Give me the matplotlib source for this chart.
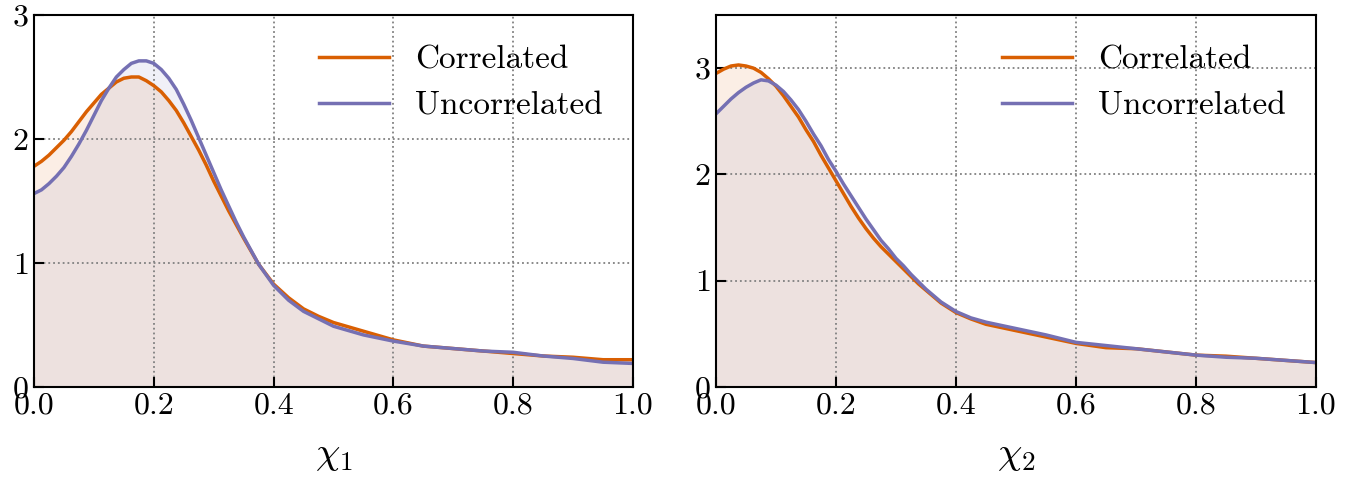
import numpy as np
import matplotlib
matplotlib.use("Agg")
import matplotlib.pyplot as plt

plt.rcParams["font.family"] = "serif"
plt.rcParams["font.serif"] = ["cmr10", "DejaVu Serif"]
plt.rcParams["mathtext.fontset"] = "cm"
plt.rcParams["axes.formatter.use_mathtext"] = True

# x grid (same for both panels): finer near the peaks
chi = [0.0, 0.0125, 0.025, 0.0375, 0.05, 0.0625, 0.075, 0.0875, 0.1, 0.1125,
       0.125, 0.1375, 0.15, 0.1625, 0.175, 0.1875, 0.2, 0.2125, 0.225, 0.2375,
       0.25, 0.2625, 0.275, 0.2875, 0.3, 0.3125, 0.325, 0.3375, 0.35,
       0.375, 0.4, 0.425, 0.45, 0.475, 0.5,
       0.55, 0.6, 0.65, 0.7, 0.75, 0.8, 0.85, 0.9, 0.95, 1.0]

# chi_1 densities
chi1_corr = [1.78, 1.82, 1.87, 1.93, 1.99, 2.06, 2.14, 2.22, 2.29, 2.36,
             2.41, 2.46, 2.49, 2.50, 2.50, 2.47, 2.43, 2.38, 2.31, 2.23,
             2.13, 2.02, 1.91, 1.79, 1.66, 1.54, 1.42, 1.31, 1.20,
             0.99, 0.83, 0.72, 0.63, 0.57, 0.52,
             0.45, 0.38, 0.33, 0.31, 0.29, 0.27, 0.25, 0.24, 0.22, 0.22]
chi1_uncorr = [1.56, 1.59, 1.64, 1.70, 1.77, 1.86, 1.96, 2.07, 2.19, 2.31,
               2.41, 2.50, 2.56, 2.61, 2.63, 2.63, 2.61, 2.56, 2.49, 2.40,
               2.28, 2.15, 2.01, 1.87, 1.73, 1.59, 1.46, 1.33, 1.21,
               0.99, 0.82, 0.70, 0.61, 0.55, 0.49,
               0.42, 0.37, 0.33, 0.31, 0.29, 0.28, 0.25, 0.23, 0.20, 0.19]

# chi_2 densities
chi2_corr = [2.95, 2.99, 3.02, 3.03, 3.02, 3.00, 2.96, 2.90, 2.83, 2.74,
             2.64, 2.54, 2.42, 2.31, 2.18, 2.06, 1.94, 1.82, 1.70, 1.59,
             1.49, 1.40, 1.32, 1.25, 1.18, 1.11, 1.04, 0.97, 0.91,
             0.79, 0.70, 0.64, 0.59, 0.56, 0.53,
             0.47, 0.41, 0.37, 0.36, 0.33, 0.30, 0.29, 0.27, 0.25, 0.23]
chi2_uncorr = [2.57, 2.64, 2.71, 2.77, 2.82, 2.86, 2.89, 2.88, 2.84, 2.78,
               2.70, 2.61, 2.50, 2.38, 2.27, 2.14, 2.03, 1.91, 1.80, 1.69,
               1.58, 1.48, 1.38, 1.30, 1.21, 1.14, 1.06, 0.99, 0.92,
               0.80, 0.71, 0.65, 0.61, 0.58, 0.55,
               0.49, 0.42, 0.39, 0.36, 0.33, 0.30, 0.28, 0.27, 0.25, 0.23]

c_corr = "#d95f02"
c_uncorr = "#7570b3"

fig = plt.figure(figsize=(13.51, 4.78), dpi=100)
ax1 = fig.add_axes([34 / 1351, 1 - 387 / 478, 599 / 1351, 372 / 478])
ax2 = fig.add_axes([716 / 1351, 1 - 387 / 478, 600 / 1351, 372 / 478])

panels = [
    (ax1, chi1_corr, chi1_uncorr, r"$\chi_1$", 3.0, [0, 1, 2, 3]),
    (ax2, chi2_corr, chi2_uncorr, r"$\chi_2$", 3.5, [0, 1, 2, 3]),
]

for ax, yc, yu, lab, ytop, yt in panels:
    ax.fill_between(chi, 0, yc, color=c_corr, alpha=0.1, lw=0)
    ax.fill_between(chi, 0, yu, color=c_uncorr, alpha=0.1, lw=0)
    ax.plot(chi, yc, color=c_corr, lw=2.5, label="Correlated")
    ax.plot(chi, yu, color=c_uncorr, lw=2.5, label="Uncorrelated")
    ax.set_xlim(0, 1)
    ax.set_ylim(0, ytop)
    ax.set_xticks([0.0, 0.2, 0.4, 0.6, 0.8, 1.0])
    ax.set_xticklabels(["0.0", "0.2", "0.4", "0.6", "0.8", "1.0"])
    ax.set_yticks(yt)
    ax.tick_params(direction="in", length=7, width=1.5, labelsize=23, pad=4)
    ax.grid(True, linestyle=":", color="gray", lw=1.3)
    for s in ax.spines.values():
        s.set_linewidth(1.5)
    ax.set_xlabel(lab, fontsize=28, labelpad=12)
    ax.legend(loc="upper right", frameon=False, fontsize=24,
              handlelength=2.1, handletextpad=0.8, borderaxespad=0.5,
              labelspacing=0.5)

fig.savefig("out.png", dpi=100)
